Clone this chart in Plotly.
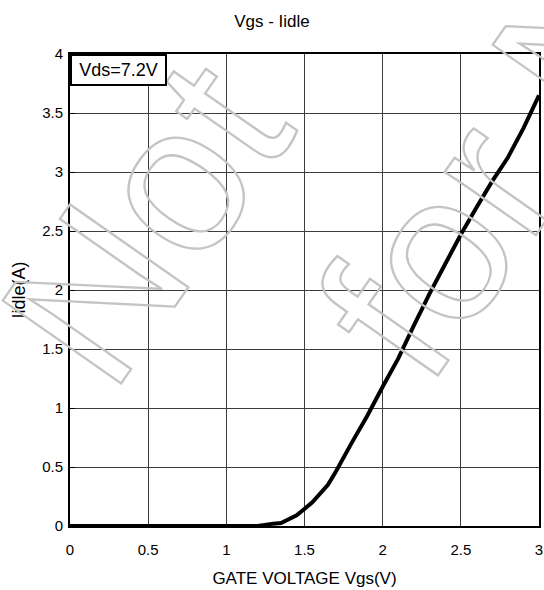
import plotly.graph_objects as go

# Data
vgs = [0.0, 0.5, 1.0, 1.2, 1.3, 1.35, 1.45, 1.55, 1.65, 1.7, 1.8, 1.9, 2.0,
       2.1, 2.2, 2.3, 2.4, 2.5, 2.6, 2.7, 2.8, 2.9, 3.0]
iidle = [0.0, 0.0, 0.0, 0.0, 0.02, 0.025, 0.09, 0.2, 0.35, 0.46, 0.7, 0.93, 1.18,
         1.42, 1.7, 1.97, 2.22, 2.47, 2.7, 2.92, 3.12, 3.37, 3.65]

x_ticks = [0, 0.5, 1, 1.5, 2, 2.5, 3]
x_ticklabels = ["0", "0.5", "1", "1.5", "2", "2.5", "3"]
y_ticks = [0, 0.5, 1, 1.5, 2, 2.5, 3, 3.5, 4]
y_ticklabels = ["0", "0.5", "1", "1.5", "2", "2.5", "3", "3.5", "4"]

title_text = "Vgs - Iidle"
x_title = "GATE VOLTAGE Vgs(V)"
y_title = "Iidle(A)"
legend_text = "Vds=7.2V"
watermark_1 = "Not"
watermark_2 = "for New"

FONT = "Liberation Sans, Arial, sans-serif"

fig = go.Figure()
fig.add_trace(go.Scatter(
    x=vgs, y=iidle, mode="lines",
    line=dict(color="black", width=4),
    showlegend=False, hoverinfo="skip",
))

outline = "fill:none;stroke:#c4c4c4;stroke-width:2.3px"
for txt, cx, cy in [(watermark_1, 145, 222), (watermark_2, 575, 52)]:
    fig.add_annotation(
        text=f'<span style="{outline}">{txt}</span>',
        xref="paper", yref="paper",
        x=(cx - 70) / 469, y=(526 - cy) / 472,
        xanchor="center", yanchor="middle",
        showarrow=False, textangle=-55,
        font=dict(family=FONT, size=210, color="rgba(0,0,0,0)"),
    )

fig.add_annotation(
    text=legend_text, xref="paper", yref="paper", x=0, y=1,
    xanchor="left", yanchor="top", showarrow=False,
    font=dict(family=FONT, size=18, color="black"),
    bgcolor="white", bordercolor="black", borderwidth=2, borderpad=0,
    width=93, height=28,
)

fig.update_layout(
    width=544, height=590,
    margin=dict(l=70, r=5, t=54, b=64, autoexpand=False),
    paper_bgcolor="white", plot_bgcolor="white",
    font=dict(family=FONT, size=15, color="black"),
    title=dict(text=title_text, x=0.5, xref="container", xanchor="center",
               y=1 - 21 / 590, yanchor="middle",
               font=dict(size=17, color="black")),
)
fig.update_xaxes(
    range=[0, 3], tickvals=x_ticks, ticktext=x_ticklabels,
    showgrid=True, gridcolor="#3c3c3c", gridwidth=1,
    showline=True, linecolor="black", linewidth=2, mirror=True,
    ticks="", ticklabelstandoff=9, zeroline=False, automargin=False,
    title=dict(text=x_title, font=dict(size=17), standoff=15),
    tickfont=dict(size=15),
)
fig.update_yaxes(
    range=[0, 4], tickvals=y_ticks, ticktext=y_ticklabels,
    showgrid=True, gridcolor="#3c3c3c", gridwidth=1,
    showline=True, linecolor="black", linewidth=2, mirror=True,
    ticks="inside", ticklen=5, tickcolor="black", ticklabelstandoff=2,
    zeroline=False, automargin=False,
    title=dict(text=y_title, font=dict(size=18), standoff=12),
    tickfont=dict(size=15),
)

fig.write_html("out.html",
               config={"displayModeBar": False},
               post_script="document.body.style.margin='0';"
                           "document.body.style.overflow='hidden';")
